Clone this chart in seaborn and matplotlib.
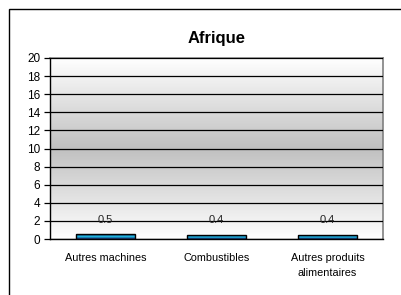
import matplotlib
matplotlib.use("Agg")
import matplotlib.pyplot as plt
import numpy as np
import pandas as pd
import seaborn as sns
from matplotlib.colors import LinearSegmentedColormap
from matplotlib.patches import Rectangle

categories = ["Autres machines", "Combustibles", "Autres produits\nalimentaires"]
values = [0.5, 0.4, 0.4]
value_labels = ["0.5", "0.4", "0.4"]
title = "Afrique"
y_ticks = list(range(0, 21, 2))

sns.set_theme(style="white")
plt.rcParams["font.family"] = ["Liberation Sans", "DejaVu Sans"]
plt.rcParams["text.color"] = "black"
plt.rcParams["xtick.color"] = "black"
plt.rcParams["ytick.color"] = "black"

df = pd.DataFrame({"cat": categories, "val": values})

fig = plt.figure(figsize=(4.02, 2.95), dpi=100)
ax = fig.add_axes([50 / 402, 56 / 295, 333 / 402, 181 / 295])

# outer chart frame
fig.patches.append(Rectangle((9.5 / 402, -0.1), 1.0, (295 - 8.5) / 295 + 0.1,
                             transform=fig.transFigure, fill=False,
                             edgecolor="black", linewidth=1.0, zorder=0))

sns.barplot(data=df, x="cat", y="val", ax=ax, width=0.53,
            color="#1f2a80", edgecolor="black", linewidth=1.0, zorder=3)

nx = len(categories)
grad = np.linspace(0, 1, 256).reshape(-1, 1)

# gradient plot background: white -> gray -> white
bg = LinearSegmentedColormap.from_list("bg", ["#ffffff", "#c0c0c0", "#ffffff"])
ax.imshow(grad, cmap=bg, aspect="auto", extent=(-0.5, nx - 0.5, 0, 20),
          origin="lower", zorder=0)

# bar fill gradient: navy edges, cyan center
bar_cmap = LinearSegmentedColormap.from_list("bar", ["#141450", "#1fc8f0", "#141450"])
for patch in ax.patches:
    x0, y0 = patch.get_x(), patch.get_y()
    w, h = patch.get_width(), patch.get_height()
    im = ax.imshow(grad, cmap=bar_cmap, aspect="auto",
                   extent=(x0, x0 + w, y0, y0 + h), origin="lower", zorder=3.5)
    im.set_clip_path(patch)
    patch.set_facecolor("none")
    patch.set_zorder(4)
ax.set_xlim(-0.5, nx - 0.5)
ax.set_ylim(0, 20)

ax.set_yticks(y_ticks)
ax.yaxis.grid(True, color="black", linewidth=0.9)
ax.set_axisbelow(False)
for line in ax.get_ygridlines():
    line.set_zorder(1)

for i, lab in enumerate(value_labels):
    ax.text(i, 2.15, lab, ha="center", va="center", fontsize=8,
            color="#222222", zorder=5)

ax.set_xticks(list(range(nx)))
ax.set_xticklabels(categories, fontsize=7.8, linespacing=1.6, va="top")
ax.tick_params(axis="x", length=0, pad=10)
ax.set_xticks([-0.5, 0.5, 1.5, 2.5], minor=True)
ax.tick_params(axis="x", which="minor", length=4, width=0.9, color="black", direction="out")
ax.tick_params(axis="y", labelsize=8.5, length=4, width=0.9, color="black",
               direction="out", left=True, pad=3)

ax.set_xlabel("")
ax.set_ylabel("")
ax.set_title(title, fontsize=12, fontweight="bold", pad=11)

ax.spines["left"].set_color("black")
ax.spines["bottom"].set_color("black")
ax.spines["top"].set_color("#808080")
ax.spines["right"].set_color("#808080")
for s in ax.spines.values():
    s.set_visible(True)
    s.set_linewidth(1.0)
ax.spines["top"].set_linewidth(1.2)
ax.spines["right"].set_linewidth(1.2)

fig.savefig("out.png", dpi=100)
